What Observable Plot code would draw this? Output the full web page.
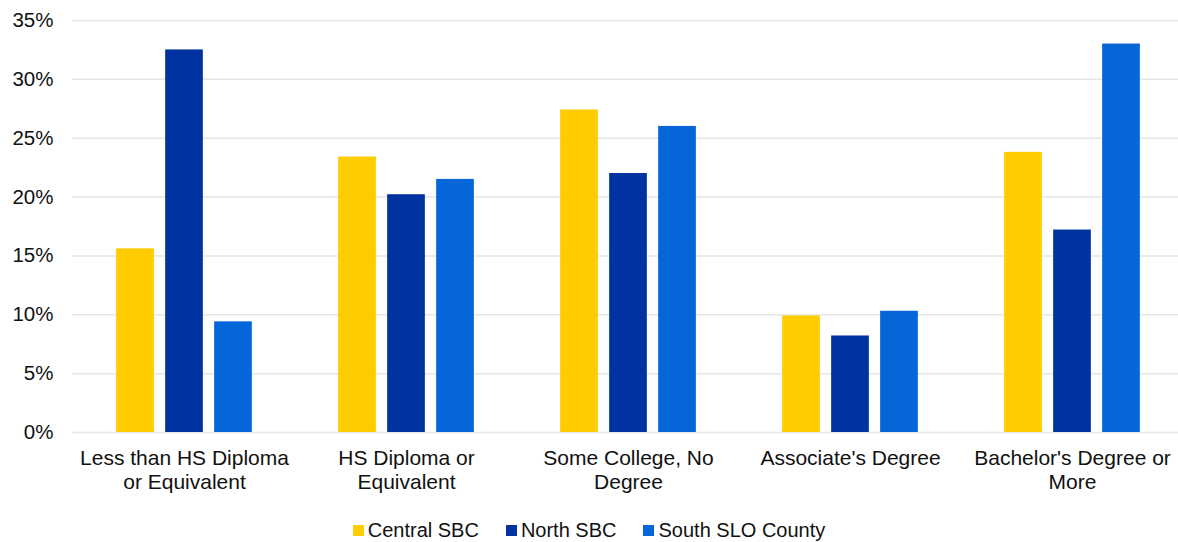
<!DOCTYPE html>
<html>
<head>
<meta charset="utf-8">
<script src="https://cdn.jsdelivr.net/npm/d3@7"></script>
<script src="https://cdn.jsdelivr.net/npm/@observablehq/plot@0.6"></script>
<style>
  html, body { margin: 0; padding: 0; background: #fff; }
  body { font-family: "Liberation Sans", Arial, sans-serif; width: 1178px; }
  #chart svg { display: block; }
  #legend { display: flex; justify-content: center; align-items: center; margin-top: 18px; height: 24px; font-size: 20px; color: #111; }
  #legend .item { display: flex; align-items: center; margin: 0 13.5px; }
  #legend .sw { width: 11px; height: 11px; margin-right: 4px; }
</style>
</head>
<body>
<div id="chart"></div>
<div id="legend"></div>
<script>
const categories = [
  "Less than HS Diploma or Equivalent",
  "HS Diploma or Equivalent",
  "Some College, No Degree",
  "Associate's Degree",
  "Bachelor's Degree or More"
];
const categoryLabels = [
  "Less than HS Diploma\nor Equivalent",
  "HS Diploma or\nEquivalent",
  "Some College, No\nDegree",
  "Associate's Degree",
  "Bachelor's Degree or\nMore"
];
const series = ["Central SBC", "North SBC", "South SLO County"];
const colors = ["#FFCC00", "#0033A0", "#0466D9"];
const centralSBC = [15.6, 23.4, 27.4, 9.9, 23.8];
const northSBC = [32.5, 20.2, 22.0, 8.2, 17.2];
const southSLO = [9.4, 21.5, 26.0, 10.3, 33.0];
const yTicks = [0, 5, 10, 15, 20, 25, 30, 35];

const seriesValues = [centralSBC, northSBC, southSLO];
const data = [];
series.forEach((s, si) => {
  categories.forEach((c, ci) => {
    data.push({ series: s, category: c, value: seriesValues[si][ci] });
  });
});

const W = 1178, H = 500;
const xRange = [71, 1185];
const band = (xRange[1] - xRange[0]) / categories.length;
const barW = 38.5, step = 49;
const inset = (band - barW) / 2;

const barMarks = series.map((s, i) =>
  Plot.barY(data.filter(d => d.series === s), {
    x: "category",
    y: "value",
    fill: colors[i],
    dx: (i - 1) * step,
    insetLeft: inset,
    insetRight: inset
  })
);

const chart = Plot.plot({
  width: W,
  height: H,
  marginLeft: 72,
  marginRight: 0,
  marginTop: 20,
  marginBottom: 68,
  style: { fontFamily: "'Liberation Sans', Arial, sans-serif", color: "#111", background: "#fff" },
  x: { type: "band", domain: categories, range: xRange, padding: 0, axis: null, label: null },
  y: { domain: [0, 35], axis: null, label: null },
  marks: [
    Plot.gridY(yTicks, { stroke: "#e6e6e6", strokeOpacity: 1, strokeWidth: 1.5 }),
    ...barMarks,
    Plot.axisY(yTicks, {
      tickSize: 0,
      tickPadding: 19,
      fontSize: 20.5,
      label: null,
      tickFormat: d => d + "%",
      fill: "#111"
    }),
    Plot.axisX({
      tickSize: 0,
      tickPadding: 15,
      fontSize: 21,
      lineHeight: 1.15,
      label: null,
      fill: "#111",
      tickFormat: d => categoryLabels[categories.indexOf(d)]
    })
  ]
});
document.getElementById("chart").appendChild(chart);

const legend = document.getElementById("legend");
series.forEach((s, i) => {
  const item = document.createElement("div");
  item.className = "item";
  const sw = document.createElement("div");
  sw.className = "sw";
  sw.style.background = colors[i];
  const label = document.createElement("span");
  label.textContent = s;
  item.appendChild(sw);
  item.appendChild(label);
  legend.appendChild(item);
});
</script>
</body>
</html>
